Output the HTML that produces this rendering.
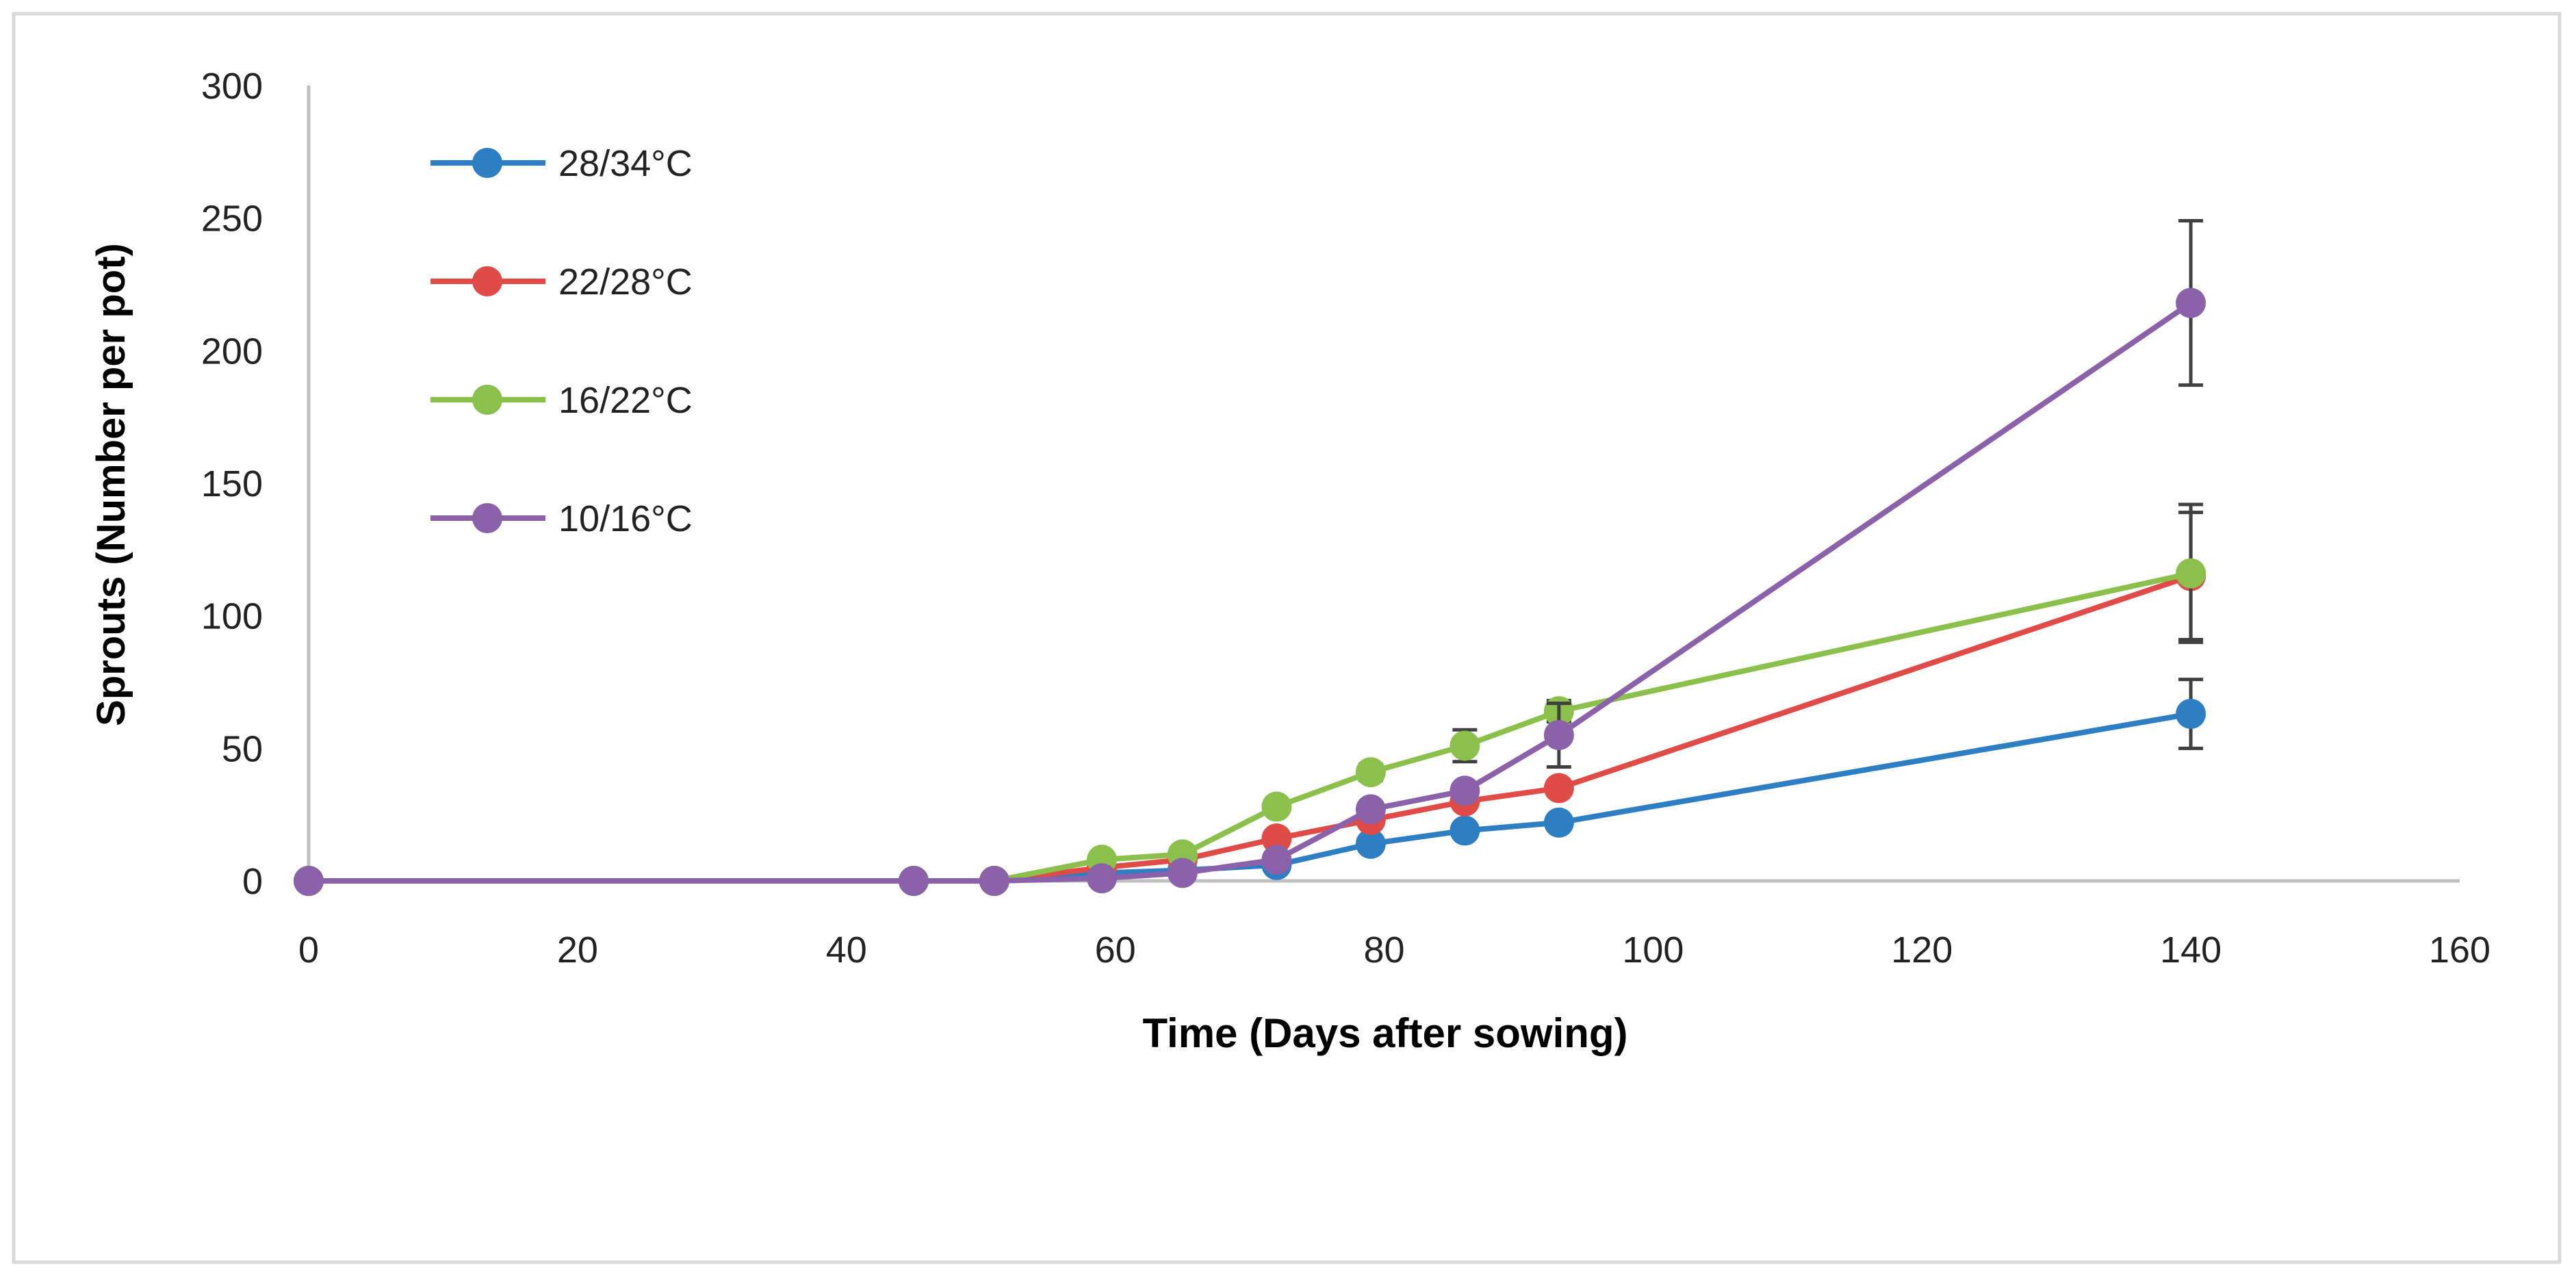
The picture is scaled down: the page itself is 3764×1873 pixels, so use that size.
<!DOCTYPE html>
<html><head><meta charset="utf-8"><style>
html,body{margin:0;padding:0;background:#fff;}
svg{display:block;font-family:"Liberation Sans",sans-serif;}
</style></head><body>
<svg id="chart" width="3764" height="1873" viewBox="0 0 3764 1873">
<rect x="20" y="20" width="3720" height="1824" fill="#fff" stroke="#d9d9d9" stroke-width="5"/>
<g id="axes"></g>
<g id="series"></g>
<g id="legend"></g>
<text x="2024" y="1530" text-anchor="middle" font-size="60" font-weight="bold" fill="#000">Time (Days after sowing)</text>
<text transform="translate(182,708) rotate(-90)" text-anchor="middle" font-size="58" font-weight="bold" fill="#000">Sprouts  (Number per pot)</text>
</svg>
<script>
const days = [0,45,51,59,65,72,79,86,93,140];
const seriesNames = ["28/34°C","22/28°C","16/22°C","10/16°C"];
const seriesColors = ["#2E7EC3","#E04B48","#8CC04C","#8B62AA"];
const blueVals = [0,0,0,3,4,6,14,19,22,63];
const redVals = [0,0,0,5,8,16,23,30,35,115];
const greenVals = [0,0,0,8,10,28,41,51,64,116];
const purpleVals = [0,0,0,1,3,8,27,34,55,218];
const blueErr = [0,0,0,0,0,0,0,0,0,13];
const redErr = [0,0,0,0,0,0,0,0,0,24];
const greenErr = [0,0,0,0,0,1,3,6,4,26];
const purpleErr = [0,0,0,0,0,0,0,0,12,31];
const xTicks = [0,20,40,60,80,100,120,140,160];
const yTicks = [0,50,100,150,200,250,300];

const NS="http://www.w3.org/2000/svg";
const X0=451,X1=3594,Y0=1287,Y1=125;
const xs=d=>X0+(d-0)/160*(X1-X0);
const ys=v=>Y0-(v/300)*(Y0-Y1);
function mk(tag,attrs,parent){const e=document.createElementNS(NS,tag);for(const k in attrs)e.setAttribute(k,attrs[k]);parent.appendChild(e);return e;}
const axes=document.getElementById('axes');
let e=mk('line',{x1:X0,y1:ys(300),x2:X0,y2:Y0,stroke:'#bfbfbf','stroke-width':5},axes);


e=mk('line',{x1:X0,y1:Y0,x2:X1,y2:Y0,stroke:'#bfbfbf','stroke-width':5},axes);


yTicks.forEach(t=>{const tx=mk('text',{x:384,y:ys(t)+19,'text-anchor':'end','font-size':54,fill:'#222'},axes);tx.textContent=t;

});
xTicks.forEach(t=>{const tx=mk('text',{x:xs(t),y:1406,'text-anchor':'middle','font-size':54,fill:'#222'},axes);tx.textContent=t;

});

const allVals=[blueVals,redVals,greenVals,purpleVals];
const allErr=[blueErr,redErr,greenErr,purpleErr];
const sg=document.getElementById('series');
allVals.forEach((vals,i)=>{
  const g=mk('g',{},sg);
  
  
  const pts=days.map((d,j)=>xs(d)+','+ys(vals[j])).join(' ');
  const pl=mk('polyline',{points:pts,fill:'none',stroke:seriesColors[i],'stroke-width':8,'stroke-linejoin':'round'},g);
  
  
  days.forEach((d,j)=>{
    const er=allErr[i][j];
    if(er>0){
      const x=xs(d),a=ys(vals[j]+er),b=ys(vals[j]-er);
      const eg=mk('g',{stroke:'#404040','stroke-width':5},g);
      
      
      mk('line',{x1:x,y1:a,x2:x,y2:b},eg);
      mk('line',{x1:x-18,y1:a,x2:x+18,y2:a},eg);
      mk('line',{x1:x-18,y1:b,x2:x+18,y2:b},eg);
    }
    const c=mk('circle',{cx:xs(d),cy:ys(vals[j]),r:22,fill:seriesColors[i]},g);
    
    
  });
});
const lg=document.getElementById('legend');
seriesNames.forEach((n,i)=>{
  const y=238+i*173;
  const g=mk('g',{},lg);
  
  
  mk('line',{x1:629,y1:y,x2:797,y2:y,stroke:seriesColors[i],'stroke-width':8},g);
  mk('circle',{cx:712,cy:y,r:22,fill:seriesColors[i]},g);
  const t=mk('text',{x:816,y:y+19,'font-size':54,fill:'#222'},g);t.textContent=n;
});
</script>
</body></html>
